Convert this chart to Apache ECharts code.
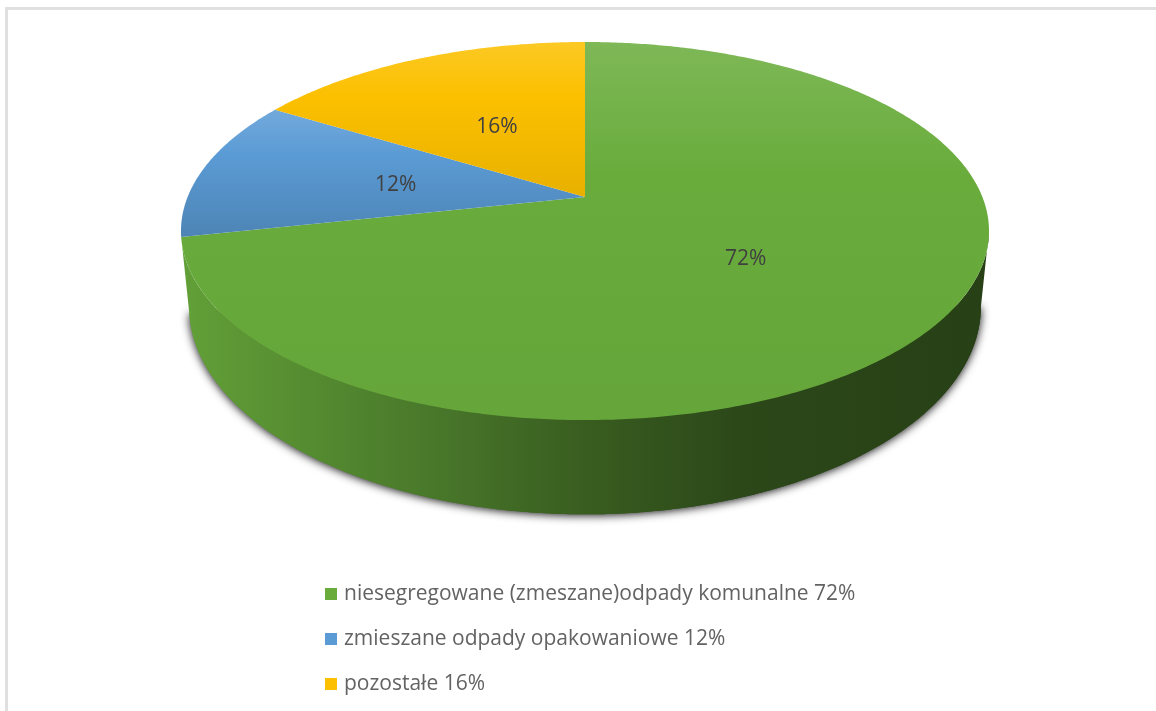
<!DOCTYPE html>
<html>
<head>
<meta charset="utf-8">
<style>
html,body{margin:0;padding:0;background:#fff;}
#chart{width:1156px;height:711px;filter:blur(0.4px);}
</style>
<script src="https://cdn.jsdelivr.net/npm/echarts@6/dist/echarts.min.js"></script>
</head>
<body>
<div id="chart"></div>
<script>
const categories = ['niesegregowane (zmeszane)odpady komunalne 72%', 'zmieszane odpady opakowaniowe 12%', 'pozostałe 16%'];
const values = [72, 12, 16];
const colors = ['#69ac3c', '#5b9bd5', '#fcc000'];
const lowerShade = [0.96, 0.85, 0.92];

const total = values.reduce((a, b) => a + b, 0);
const FONT = '"Open Sans", "Noto Sans", sans-serif';
// perspective disc
const cx = 585, cy = 197, RX = 397.4, RY = 182.9, P = 0.18, SKEW = 0.024;
// base rim relative to the top rim
const BASE_SX = 0.98, BASE_SY = 1.1, BASE_DY = 72;
// angular range of the rim that faces the viewer
const FRONT_A0 = 1.775, FRONT_A1 = 2 * Math.PI - 1.75;

function project(theta, f) {
  const s = Math.sin(theta);
  const t = theta - SKEW * s * s;
  const u = f * Math.sin(t), v = -f * Math.cos(t), w = 1 - P * v;
  return [cx + RX * u / w, cy + RY * v / w];
}
function toBase(p) {
  return [cx + (p[0] - cx) * BASE_SX, cy + (p[1] - cy) * BASE_SY + BASE_DY];
}
function rim(a0, a1) {
  const n = Math.max(2, Math.ceil((a1 - a0) / 0.01)), pts = [];
  for (let i = 0; i <= n; i++) pts.push(project(a0 + (a1 - a0) * i / n, 1));
  return pts;
}
function shade(hex, k) {
  const n = parseInt(hex.slice(1), 16);
  const c = [n >> 16, (n >> 8) & 255, n & 255].map(x =>
    Math.round(k <= 1 ? x * k : x + (255 - x) * (k - 1)));
  return 'rgb(' + c.join(',') + ')';
}
function renderSlice(params, api) {
  const idx = params.seriesIndex;
  const value = api.value(0);
  const before = values.slice(0, idx).reduce((a, b) => a + b, 0);
  const a0 = before / total * Math.PI * 2;
  const a1 = a0 + value / total * Math.PI * 2;
  const color = colors[idx];
  const edge = rim(a0, a1);
  const labelPos = project((a0 + a1) / 2, 0.49);
  const children = [];
  const w0 = Math.max(a0, FRONT_A0), w1 = Math.min(a1, FRONT_A1);
  if (w1 - w0 > 0.05) {
    const front = rim(w0, w1);
    const base = front.slice().reverse().map(toBase);
    const wallFill = {
      type: 'linear', x: 181, y: 0, x2: 989, y2: 0, global: true,
      colorStops: [
        { offset: 0, color: shade(color, 0.93) },
        { offset: 0.33, color: shade(color, 0.68) },
        { offset: 0.5, color: shade(color, 0.54) },
        { offset: 0.69, color: shade(color, 0.42) },
        { offset: 1, color: shade(color, 0.37) }
      ]
    };
    children.push({
      type: 'polygon', z2: 0,
      shape: { points: base },
      style: { fill: wallFill, shadowBlur: 10, shadowColor: 'rgba(0,0,0,0.95)', shadowOffsetY: 1 }
    });
    children.push({
      type: 'polygon', z2: 1,
      shape: { points: front.concat(base) },
      style: { fill: wallFill }
    });
  }
  children.push({
    type: 'polygon', z2: 2,
    shape: { points: [[cx, cy]].concat(edge) },
    style: {
      fill: {
        type: 'linear', x: 0, y: 0, x2: 0, y2: 1,
        colorStops: [
          { offset: 0, color: shade(color, 1.14) },
          { offset: 0.35, color: color },
          { offset: 1, color: shade(color, lowerShade[idx]) }
        ]
      }
    }
  });
  children.push({
    type: 'text', z2: 3,
    style: {
      x: labelPos[0], y: labelPos[1] + 3,
      text: value + '%',
      fill: '#404040',
      font: '21px ' + FONT,
      align: 'center', verticalAlign: 'middle'
    }
  });
  return { type: 'group', children };
}

const chart = echarts.init(document.getElementById('chart'), null, { renderer: 'canvas' });
chart.setOption({
  animation: false,
  backgroundColor: '#ffffff',
  legend: {
    orient: 'vertical',
    left: 320,
    top: 576,
    itemWidth: 12,
    itemHeight: 12,
    itemGap: 19,
    selectedMode: false,
    icon: 'rect',
    data: categories,
    textStyle: { color: '#636363', fontFamily: FONT, fontSize: 21, lineHeight: 26, padding: [0, 0, 0, 2] }
  },
  graphic: [
    { type: 'rect', shape: { x: 5, y: 7, width: 1151, height: 3 }, style: { fill: '#e0e0e0' } },
    { type: 'rect', shape: { x: 5, y: 7, width: 3, height: 704 }, style: { fill: '#e0e0e0' } }
  ],
  series: categories.map((name, i) => ({
    type: 'custom',
    name: name,
    coordinateSystem: 'none',
    itemStyle: { color: colors[i] },
    data: [[values[i]]],
    renderItem: renderSlice,
    silent: true
  }))
});
</script>
</body>
</html>
